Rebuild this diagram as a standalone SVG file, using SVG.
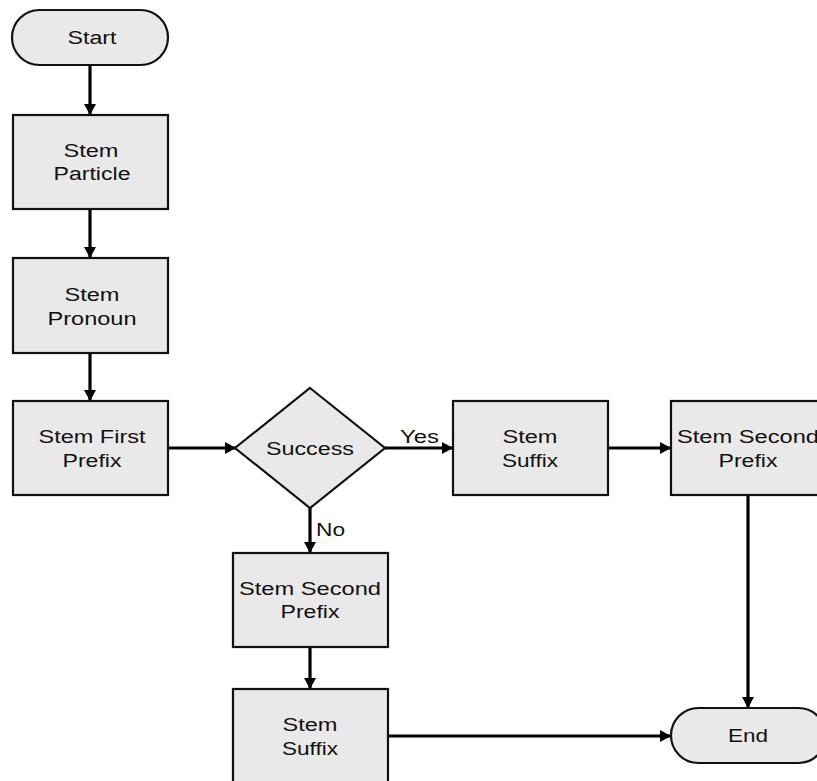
<svg xmlns="http://www.w3.org/2000/svg" width="817" height="781" viewBox="0 0 817 781">
  <style>
    .shape { fill: #e9e9e9; stroke: #111; stroke-width: 2.2; }
    .edge { fill: none; stroke: #000; stroke-width: 3.2; }
    .lbl { font-family: "Liberation Sans", Arial, sans-serif; font-size: 18px; fill: #111; text-anchor: middle; }
    .elbl { font-family: "Liberation Sans", Arial, sans-serif; font-size: 18px; fill: #111; }
  </style>
  <defs>
    <marker id="arrow" markerUnits="userSpaceOnUse" markerWidth="14" markerHeight="14" viewBox="0 0 14 14" refX="12" refY="7" orient="auto">
      <path d="M1,1 L12,7 L1,13 Z" fill="#000"/>
    </marker>
  </defs>
  <rect width="817" height="781" fill="#fff"/>

  <!-- connectors -->
  <g id="edges">
    <line class="edge" x1="90" y1="65" x2="90" y2="115" marker-end="url(#arrow)"/>
    <line class="edge" x1="90" y1="209" x2="90" y2="258" marker-end="url(#arrow)"/>
    <line class="edge" x1="90" y1="353" x2="90" y2="401" marker-end="url(#arrow)"/>
    <line class="edge" x1="168" y1="448" x2="236" y2="448" marker-end="url(#arrow)"/>
    <line class="edge" x1="385" y1="448" x2="453" y2="448" marker-end="url(#arrow)"/>
    <line class="edge" x1="608" y1="448" x2="671" y2="448" marker-end="url(#arrow)"/>
    <line class="edge" x1="748" y1="495" x2="748" y2="708" marker-end="url(#arrow)"/>
    <line class="edge" x1="310" y1="508" x2="310" y2="553" marker-end="url(#arrow)"/>
    <line class="edge" x1="310" y1="647" x2="310" y2="689" marker-end="url(#arrow)"/>
    <line class="edge" x1="388" y1="736" x2="671" y2="736" marker-end="url(#arrow)"/>
    <text class="elbl" x="400" y="443" textLength="39" lengthAdjust="spacingAndGlyphs">Yes</text>
    <text class="elbl" x="316" y="536" textLength="29" lengthAdjust="spacingAndGlyphs">No</text>
  </g>

  <g id="start">
    <rect class="shape" x="12" y="10" width="156" height="55" rx="27.5" ry="27.5"/>
    <text class="lbl" x="92" y="44" textLength="49" lengthAdjust="spacingAndGlyphs">Start</text>
  </g>

  <g id="stem-particle">
    <rect class="shape" x="13" y="115" width="155" height="94"/>
    <text class="lbl" x="91" y="157" textLength="55" lengthAdjust="spacingAndGlyphs">Stem</text>
    <text class="lbl" x="92" y="180" textLength="77" lengthAdjust="spacingAndGlyphs">Particle</text>
  </g>

  <g id="stem-pronoun">
    <rect class="shape" x="13" y="258" width="155" height="95"/>
    <text class="lbl" x="92" y="301" textLength="55" lengthAdjust="spacingAndGlyphs">Stem</text>
    <text class="lbl" x="92" y="325" textLength="89" lengthAdjust="spacingAndGlyphs">Pronoun</text>
  </g>

  <g id="stem-first-prefix">
    <rect class="shape" x="13" y="401" width="155" height="94"/>
    <text class="lbl" x="92" y="443" textLength="107" lengthAdjust="spacingAndGlyphs">Stem First</text>
    <text class="lbl" x="92" y="467" textLength="59" lengthAdjust="spacingAndGlyphs">Prefix</text>
  </g>

  <g id="success">
    <polygon class="shape" points="310,388 385,448 310,508 235,448"/>
    <text class="lbl" x="310" y="455" textLength="88" lengthAdjust="spacingAndGlyphs">Success</text>
  </g>

  <g id="stem-suffix-a">
    <rect class="shape" x="453" y="401" width="155" height="94"/>
    <text class="lbl" x="530" y="443" textLength="55" lengthAdjust="spacingAndGlyphs">Stem</text>
    <text class="lbl" x="530" y="467" textLength="56" lengthAdjust="spacingAndGlyphs">Suffix</text>
  </g>

  <g id="stem-second-prefix-a">
    <rect class="shape" x="671" y="401" width="155" height="94"/>
    <text class="lbl" x="748" y="443" textLength="142" lengthAdjust="spacingAndGlyphs">Stem Second</text>
    <text class="lbl" x="748" y="467" textLength="59" lengthAdjust="spacingAndGlyphs">Prefix</text>
  </g>

  <g id="stem-second-prefix-b">
    <rect class="shape" x="233" y="553" width="155" height="94"/>
    <text class="lbl" x="310" y="595" textLength="142" lengthAdjust="spacingAndGlyphs">Stem Second</text>
    <text class="lbl" x="310" y="618" textLength="59" lengthAdjust="spacingAndGlyphs">Prefix</text>
  </g>

  <g id="stem-suffix-b">
    <rect class="shape" x="233" y="689" width="155" height="94"/>
    <text class="lbl" x="310" y="731" textLength="55" lengthAdjust="spacingAndGlyphs">Stem</text>
    <text class="lbl" x="310" y="755" textLength="56" lengthAdjust="spacingAndGlyphs">Suffix</text>
  </g>

  <g id="end">
    <rect class="shape" x="671" y="708" width="155" height="55" rx="27.5" ry="27.5"/>
    <text class="lbl" x="748" y="742" textLength="40" lengthAdjust="spacingAndGlyphs">End</text>
  </g>
</svg>
